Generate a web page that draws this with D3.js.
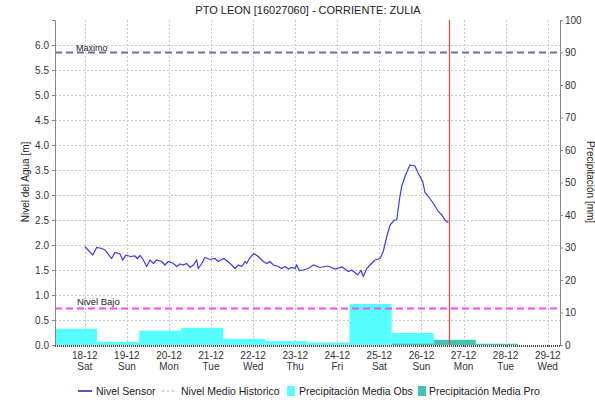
<!DOCTYPE html>
<html>
  <head>
    <title>PTO LEON</title>
    <script src="https://d3js.org/d3.v7.min.js"></script>
    <style>
      body { margin: 0; background: #fff; }
      text { font-family: "Liberation Sans", Arial, sans-serif; }
    </style>
  </head>
  <body>
    <svg width="595" height="403"></svg>
    <script>
      // horas desde 18-12 00:00 y nivel del sensor [m]
      const horas = [0, 4.5, 6.8, 9.6, 11.5, 15.3, 17.2, 20.1, 21.6, 23.5, 25.8, 28.6, 29.9, 31.5, 33.4,
        35.3, 37.2, 39.1, 41.0, 43.9, 45.7, 47.6, 50.5, 52.4, 54.3, 56.2, 58.1, 60.0, 61.9, 63.8, 64.7,
        66.7, 68.5, 71.4, 74.2, 76.1, 79.0, 80.9, 83.8, 85.7, 87.5, 89.5, 91.4, 92.3, 94.2, 96.5, 98.9,
        101.8, 103.7, 105.6, 107.5, 110.4, 112.3, 114.2, 116.1, 118.0, 119.9, 120.8, 122.3, 124.4,
        127.5, 130.3, 134.1, 138.7, 142.7, 146.7, 150.3, 152.2, 155.6, 157.5, 158.8, 160.8, 162.7,
        165.5, 168.4, 170.2, 172.2, 174.1, 176.5, 177.9, 179.4, 180.7, 182.6, 184.5, 185.5, 188.3,
        190.2, 192.7, 194.0, 195.9, 198.8, 201.6, 203.6, 205.4, 207.3];
      const nivel = [1.97, 1.80, 1.95, 1.93, 1.90, 1.73, 1.85, 1.82, 1.70, 1.80, 1.77, 1.78, 1.73, 1.79, 1.70,
        1.57, 1.70, 1.63, 1.70, 1.67, 1.60, 1.67, 1.63, 1.57, 1.62, 1.60, 1.63, 1.55, 1.60, 1.70, 1.53,
        1.63, 1.75, 1.71, 1.73, 1.67, 1.73, 1.69, 1.60, 1.53, 1.60, 1.57, 1.67, 1.63, 1.75, 1.83, 1.77,
        1.67, 1.63, 1.67, 1.60, 1.57, 1.53, 1.57, 1.52, 1.55, 1.53, 1.60, 1.49, 1.50,
        1.53, 1.60, 1.55, 1.58, 1.52, 1.56, 1.47, 1.50, 1.40, 1.49, 1.37, 1.53, 1.60,
        1.70, 1.73, 1.87, 2.17, 2.40, 2.50, 2.50, 2.90, 3.17, 3.37, 3.53, 3.60, 3.58,
        3.43, 3.27, 3.05, 2.97, 2.83, 2.67, 2.60, 2.50, 2.45];

      // precipitacion diaria [mm], periodos desde las 07:00
      const diasObs = [17, 18, 19, 20, 21, 22, 23, 24, 25];
      const precipObs = [5.0, 1.0, 4.4, 5.3, 1.9, 1.2, 0.8, 12.6, 3.7];
      const diasPro = [25, 26, 27];
      const precipPro = [0.4, 1.6, 0.4];

      const nivelMaximo = 5.85;
      const nivelBajo = 0.73;
      const horaActual = 207.6;

      const ticksNivel = d3.range(0, 6.01, 0.5);
      const ticksPrecip = d3.range(0, 101, 10);

      const svg = d3.select("svg");
      const mLeft = 55, mRight = 560, mTop = 20, mBottom = 345;

      const t0 = new Date(2021, 11, 18);
      const toDate = h => new Date(t0.getTime() + h * 3600e3);

      const x = d3.scaleTime()
        .domain([new Date(2021, 11, 17, 7), new Date(2021, 11, 29, 7)])
        .range([mLeft, mRight]);
      const y = d3.scaleLinear().domain([0, 6.5]).range([mBottom, mTop]);
      const y2 = d3.scaleLinear().domain([0, 100]).range([mBottom, mTop]);

      const dias = d3.timeDay.range(new Date(2021, 11, 18), new Date(2021, 11, 30));

      // grid
      svg.append("g").selectAll("line").data(ticksNivel.slice(1)).join("line")
        .attr("x1", mLeft).attr("x2", mRight)
        .attr("y1", d => y(d) + 0.5).attr("y2", d => y(d) + 0.5)
        .attr("stroke", "#c8c8c8").attr("stroke-dasharray", "2,2");
      svg.append("g").selectAll("line").data(dias).join("line")
        .attr("x1", d => Math.round(x(d)) + 0.5).attr("x2", d => Math.round(x(d)) + 0.5)
        .attr("y1", mTop).attr("y2", mBottom)
        .attr("stroke", "#c8c8c8").attr("stroke-dasharray", "2,2");

      // barras
      const barra = (g, dias, vals, color) => g.selectAll("rect").data(vals).join("rect")
        .attr("x", (d, i) => x(new Date(2021, 11, dias[i], 7)))
        .attr("width", (d, i) => x(new Date(2021, 11, dias[i] + 1, 7)) - x(new Date(2021, 11, dias[i], 7)))
        .attr("y", d => y2(d))
        .attr("height", d => mBottom - y2(d))
        .attr("fill", color);
      barra(svg.append("g"), diasObs, precipObs, "#55ffff");
      barra(svg.append("g"), diasPro, precipPro, "#40c4b8");

      // umbrales
      svg.append("line")
        .attr("x1", mLeft).attr("x2", mRight).attr("y1", y(nivelMaximo)).attr("y2", y(nivelMaximo))
        .attr("stroke", "#6670a8").attr("stroke-width", 2).attr("stroke-dasharray", "7,4");
      svg.append("text").attr("x", 76).attr("y", y(nivelMaximo) - 2)
        .attr("font-size", 9).attr("fill", "#222").text("Maximo");
      svg.append("line")
        .attr("x1", mLeft).attr("x2", mRight).attr("y1", y(nivelBajo)).attr("y2", y(nivelBajo))
        .attr("stroke", "#ff44ff").attr("stroke-width", 2).attr("stroke-dasharray", "7,4");
      svg.append("text").attr("x", 77).attr("y", y(nivelBajo) - 4)
        .attr("font-size", 9.5).attr("fill", "#222").text("Nivel Bajo");

      // nivel sensor
      const serie = horas.map((h, i) => [toDate(h), nivel[i]]);
      svg.append("path").datum(serie)
        .attr("fill", "none").attr("stroke", "#3a3af5").attr("stroke-width", 1.2)
        .attr("d", d3.line().x(d => x(d[0])).y(d => y(d[1])));

      // hora actual
      const xAhora = Math.round(x(toDate(horaActual))) + 0.5;
      svg.append("line")
        .attr("x1", xAhora).attr("x2", xAhora)
        .attr("y1", mTop).attr("y2", mBottom)
        .attr("stroke", "#ff3b3b").attr("stroke-width", 1.2);

      // ejes
      const ejeY = svg.append("g").attr("transform", `translate(${mLeft},0)`)
        .call(d3.axisLeft(y).tickValues(ticksNivel).tickFormat(d3.format(".1f")).tickSize(3).tickPadding(3));
      const ejeY2 = svg.append("g").attr("transform", `translate(${mRight},0)`)
        .call(d3.axisRight(y2).tickValues(ticksPrecip).tickSize(3).tickPadding(2));
      [ejeY, ejeY2].forEach(g => {
        g.select(".domain").attr("stroke", "#888");
        g.selectAll(".tick line").attr("stroke", "#888");
        g.selectAll(".tick text").attr("font-size", 10).attr("fill", "#333")
          .style("font-family", "'Liberation Sans', Arial, sans-serif");
      });

      const ejeX = svg.append("g").attr("transform", `translate(0,${mBottom})`)
        .call(d3.axisBottom(x).tickValues(dias).tickSize(2).tickFormat(""));
      ejeX.select(".domain").remove();
      ejeX.selectAll(".tick line").attr("stroke", "#888");
      svg.append("line").attr("x1", mLeft).attr("x2", mRight).attr("y1", mBottom + 1).attr("y2", mBottom + 1)
        .attr("stroke", "#444").attr("stroke-width", 2).attr("stroke-dasharray", "1,1");
      const fmtFecha = d3.timeFormat("%d-%m"), fmtDia = d3.timeFormat("%a");
      const etiquetas = svg.append("g").selectAll("text").data(dias).join("text")
        .attr("x", d => x(d)).attr("text-anchor", "middle")
        .attr("font-size", 10).attr("fill", "#333");
      etiquetas.append("tspan").attr("x", d => x(d)).attr("y", 359).text(d => fmtFecha(d));
      etiquetas.append("tspan").attr("x", d => x(d)).attr("y", 370).text(d => fmtDia(d));

      // titulos
      svg.append("text").attr("x", 308).attr("y", 14).attr("text-anchor", "middle")
        .attr("font-size", 11).attr("fill", "#222").text("PTO LEON [16027060] - CORRIENTE: ZULIA");
      svg.append("text").attr("transform", "translate(29,182) rotate(-90)").attr("text-anchor", "middle")
        .attr("font-size", 10).attr("fill", "#222").text("Nivel del Agua [m]");
      svg.append("text").attr("transform", "translate(587,182) rotate(90)").attr("text-anchor", "middle")
        .attr("font-size", 10).attr("fill", "#222").text("Precipitación [mm]");

      // leyenda
      const ly = 391;
      const ley = svg.append("g").attr("font-size", 10.5).attr("fill", "#222");
      ley.append("line").attr("x1", 78).attr("x2", 92).attr("y1", ly).attr("y2", ly)
        .attr("stroke", "#1c1cb0").attr("stroke-width", 1.5);
      ley.append("text").attr("x", 96).attr("y", ly + 4).text("Nivel Sensor");
      ley.append("line").attr("x1", 162).attr("x2", 177).attr("y1", ly).attr("y2", ly)
        .attr("stroke", "#c0c0c0").attr("stroke-width", 1.5).attr("stroke-dasharray", "2,3");
      ley.append("text").attr("x", 181).attr("y", ly + 4).text("Nivel Medio Historico");
      ley.append("rect").attr("x", 287).attr("y", ly - 5).attr("width", 8).attr("height", 10).attr("fill", "#55ffff");
      ley.append("text").attr("x", 299).attr("y", ly + 4).text("Precipitación Media Obs");
      ley.append("rect").attr("x", 418).attr("y", ly - 5).attr("width", 8).attr("height", 10).attr("fill", "#40c4b8");
      ley.append("text").attr("x", 429).attr("y", ly + 4).text("Precipitación Media Pro");
    </script>
  </body>
</html>
